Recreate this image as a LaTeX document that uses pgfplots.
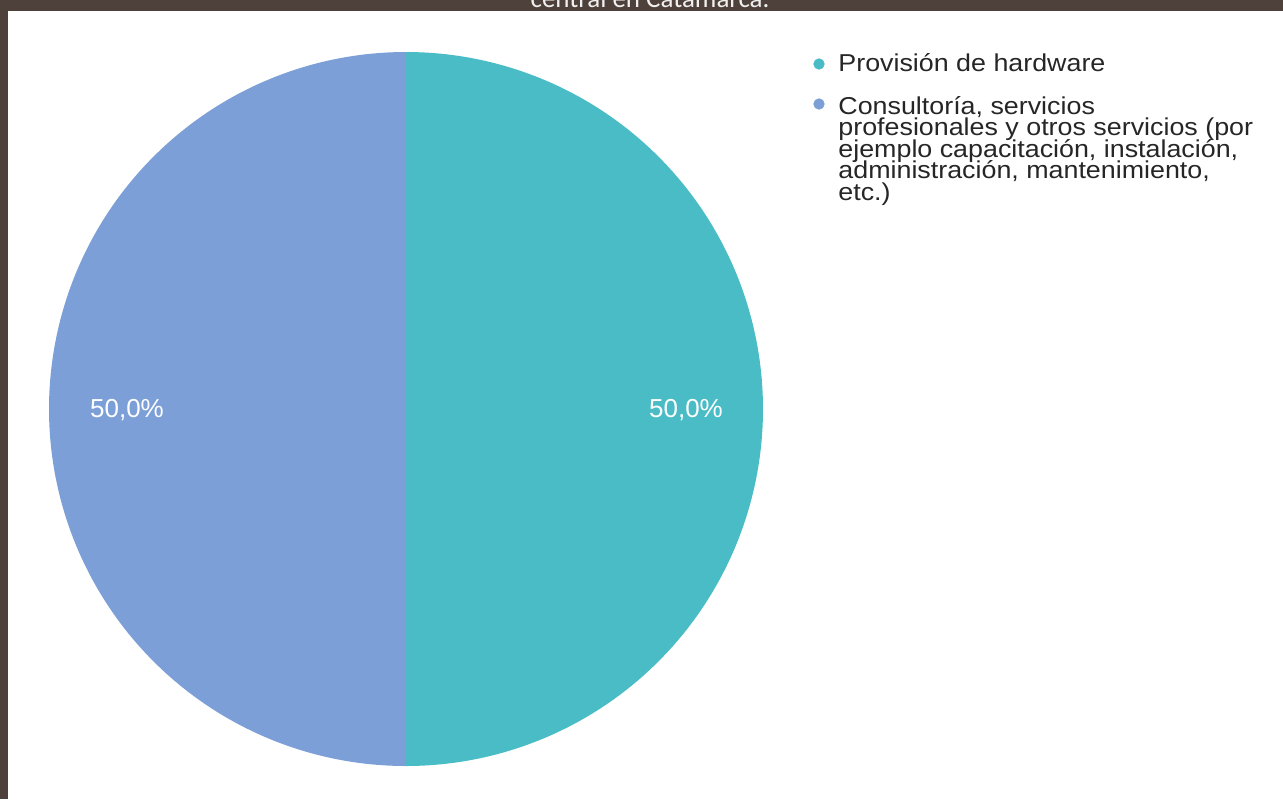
\documentclass[border=0pt]{standalone}
\usepackage{fontspec}
\setmainfont{Liberation Sans}
\newfontfamily\titlefont{Carlito}
\newfontfamily\legfont[FakeStretch=1.1]{Liberation Sans}
\usepackage{pgfplots}
\pgfplotsset{compat=1.18}
\usepackage{pgfplotstable}
\definecolor{frame}{HTML}{4E403A}
\definecolor{hw}{HTML}{49BCC6}
\definecolor{cons}{HTML}{7B9FD6}
\definecolor{legtext}{HTML}{262626}

\pgfplotstableread{
label value
hw 50
cons 50
}\piedata
\pgfplotstablegetelem{0}{value}\of\piedata \let\valA\pgfplotsretval
\pgfplotstablegetelem{1}{value}\of\piedata \let\valB\pgfplotsretval
\pgfmathsetmacro\aS{90}
\pgfmathsetmacro\aM{90-3.6*\valA}
\pgfmathsetmacro\aE{\aM-3.6*\valB}

\begin{document}
\begin{tikzpicture}
\begin{axis}[hide axis, scale only axis, x=0.5pt, y=0.5pt,
  xmin=0, xmax=1283, ymin=0, ymax=799, y dir=reverse, clip=false]
  \fill[frame] (axis cs:0,0) rectangle (axis cs:1283,799);
  \fill[white] (axis cs:8,11) rectangle (axis cs:1283,799);
  \node[anchor=base, text=white!92!frame, font=\titlefont\fontsize{13.5}{16}\selectfont]
    at (axis cs:650,7) {central en Catamarca.};
  % pie slices
  \addplot[fill=hw, draw=none, domain=\aS:\aM, samples=240]
    ({406+357*cos(x)},{409-357*sin(x)});
  \addplot[fill=cons, draw=none, domain=\aM:\aE, samples=240]
    ({406+357*cos(x)},{409-357*sin(x)});
  \node[text=white, font=\fontsize{13}{15}\selectfont] at (axis cs:686,410) {50,0\%};
  \node[text=white, font=\fontsize{13}{15}\selectfont] at (axis cs:127,410) {50,0\%};
  % legend
  \addplot[only marks, mark=*, mark size=2.6pt, color=hw] coordinates {(819,64)};
  \addplot[only marks, mark=*, mark size=2.6pt, color=cons] coordinates {(819,104)};
  \begin{scope}[every node/.style={anchor=base west, text=legtext, inner sep=0pt, font=\legfont\fontsize{12.2}{15}\selectfont}]
  \node at (axis cs:838,71) {Provisión de hardware};
  \node at (axis cs:838,114) {Consultoría, servicios};
  \node at (axis cs:838,135.5) {profesionales y otros servicios (por};
  \node at (axis cs:838,157) {ejemplo capacitación, instalación,};
  \node at (axis cs:838,178.5) {administración, mantenimiento,};
  \node at (axis cs:838,200) {etc.)};
  \end{scope}
\end{axis}
\pgfresetboundingbox
\useasboundingbox (current axis.south west) rectangle (current axis.north east);
\end{tikzpicture}
\end{document}
